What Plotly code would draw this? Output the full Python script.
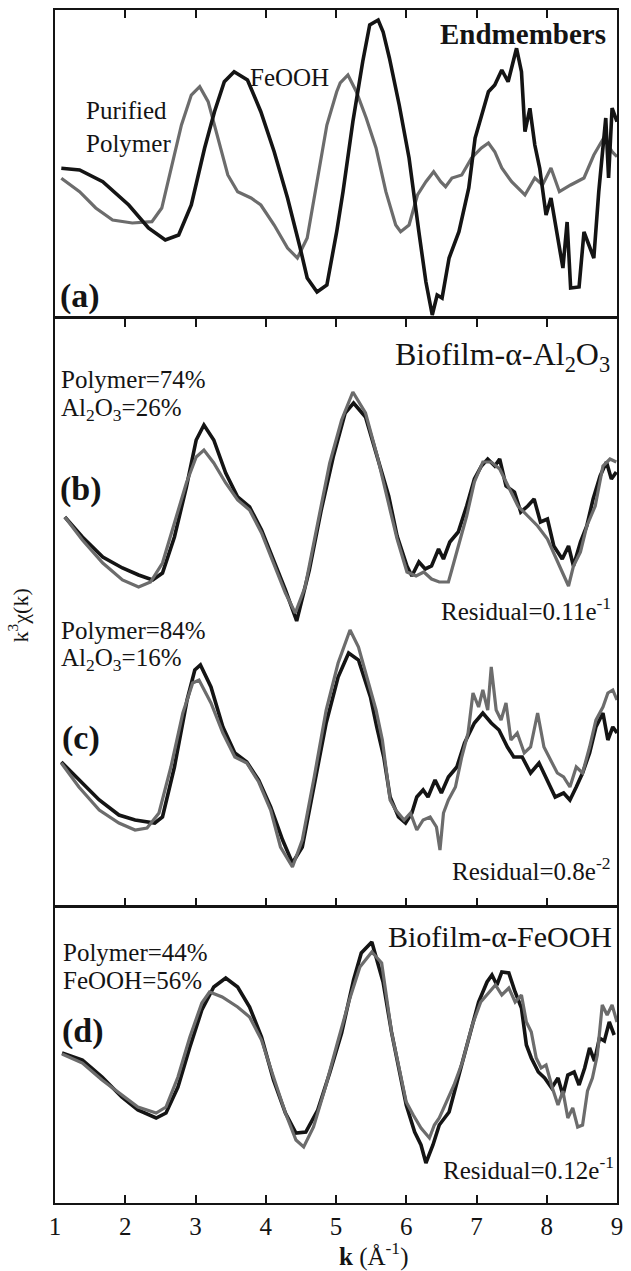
import plotly.graph_objects as go

# ---------------- data (k in 1/Angstrom, k^3 chi(k) in arbitrary units) ----------------
# (a) Endmembers
A_K_FEOOH = [1.09,1.35,1.68,2.05,2.33,2.57,2.76,2.94,3.13,3.27,3.41,3.55,3.74,3.93,4.12,4.31,4.49,4.59,4.73,4.87,
             5.01,5.10,5.24,5.38,5.48,5.60,5.67,5.76,5.90,6.04,6.18,6.28,6.37,6.44,6.51,6.61,6.75,6.89,6.98,7.07,
             7.17,7.26,7.36,7.45,7.57,7.64,7.69,7.76,7.83,7.90,7.99,8.06,8.15,8.23,8.29,8.34,8.46,8.53,8.60,8.67,
             8.74,8.84,8.88,8.93,9.00]
A_FEOOH = [0.67,0.5,-0.67,-3.0,-5.3,-6.5,-6.0,-3.0,2.7,6.33,9.33,10.33,9.5,6.33,2.33,-2.3,-7.3,-10.3,-11.7,-11.0,
           -5.67,-1.67,5.33,11.33,15.0,15.5,14.33,11.7,7.0,1.7,-5.7,-10.7,-14.0,-12.0,-12.3,-8.3,-5.67,-1.3,3.7,6.0,
           8.33,9.0,10.5,9.33,12.67,10.33,4.33,6.67,3.0,0.67,-4.0,-2.3,-6.3,-9.3,-4.7,-11.3,-11.2,-5.7,-7.0,-8.3,
           -1.7,5.7,-0.3,6.7,5.33]
A_K_POLY = [1.09,1.35,1.58,1.82,2.10,2.38,2.52,2.66,2.80,2.94,3.06,3.18,3.32,3.46,3.60,3.79,3.93,4.12,4.31,4.45,
            4.59,4.73,4.87,5.01,5.06,5.17,5.29,5.43,5.57,5.71,5.85,5.92,6.04,6.16,6.28,6.39,6.49,6.56,6.65,6.79,
            6.93,7.07,7.17,7.26,7.36,7.50,7.69,7.83,7.94,8.06,8.18,8.34,8.53,8.67,8.81,8.93,9.00]
A_POLY = [-0.33,-1.67,-3.3,-4.5,-4.8,-4.67,-3.3,0.7,5.0,8.0,8.83,7.33,3.7,0,-1.67,-2.3,-3.0,-5.0,-7.3,-8.3,
          -6.3,-0.67,5.0,8.33,9.2,10.0,8.33,5.7,2.7,-1.67,-5.0,-5.67,-5.0,-2.0,-0.67,0.33,-0.67,-1.17,-0.3,0,
          1.7,2.7,3.2,2.33,0.7,-0.67,-2.0,-0.3,-1.0,0.7,-1.67,-1.0,-0.3,2.0,3.7,2.33,1.83]

# (b) Biofilm-alpha-Al2O3, Polymer=74%
B_K_DATA = [1.14,1.39,1.68,1.96,2.19,2.39,2.53,2.70,2.87,3.01,3.12,3.26,3.43,3.60,3.77,3.94,4.11,4.28,4.44,4.62,
            4.79,4.96,5.13,5.25,5.42,5.59,5.75,5.87,6.01,6.08,6.18,6.27,6.36,6.46,6.53,6.62,6.74,6.86,6.97,7.07,
            7.16,7.26,7.33,7.42,7.54,7.63,7.73,7.82,7.91,8.01,8.10,8.22,8.31,8.38,8.48,8.57,8.66,8.76,8.85,8.92,8.99]
B_DATA = [0,-2.0,-4.0,-5.1,-5.8,-6.3,-5.6,-2.0,3.0,7.7,9.2,7.7,4.4,2.0,1.0,-1.3,-4.3,-7.3,-10.4,-5.3,
          0.7,6.0,10.4,11.4,10.0,6.0,2.1,-1.9,-4.9,-5.9,-4.5,-5.2,-4.9,-3.2,-4.2,-2.5,-1.5,1.1,3.8,5.1,
          5.8,5.1,5.8,3.1,2.5,0.5,1.1,1.8,-0.5,-0.2,-2.9,-4.2,-2.9,-4.9,-2.5,-0.9,1.8,4.1,5.5,3.8,4.5]
B_K_FIT = [1.14,1.39,1.68,1.96,2.19,2.36,2.53,2.70,2.87,3.01,3.12,3.26,3.43,3.60,3.77,3.94,4.11,4.28,4.42,4.56,
           4.74,4.91,5.08,5.24,5.42,5.59,5.76,5.87,6.01,6.14,6.25,6.36,6.47,6.60,6.64,6.74,6.86,6.97,7.09,7.21,
           7.33,7.45,7.59,7.73,7.87,8.01,8.13,8.22,8.31,8.38,8.48,8.57,8.69,8.80,8.90,8.99]
B_FIT = [0,-2.3,-4.6,-6.3,-7.0,-6.5,-4.6,-0.6,3.4,6.0,6.7,5.4,3.4,1.7,0.7,-1.6,-4.6,-7.6,-9.6,-7.0,
         -0.6,5.4,9.7,12.5,10.4,6.0,1.0,-2.2,-5.5,-5.9,-5.5,-6.2,-6.5,-6.5,-5.5,-2.9,0.1,3.5,5.5,5.5,
         4.8,3.1,1.1,0.1,-0.9,-2.2,-4.2,-5.5,-6.9,-4.9,-3.5,-0.9,1.1,5.1,5.8,5.5]

# (c) Biofilm-alpha-Al2O3, Polymer=84%
C_K_DATA = [1.09,1.34,1.63,1.91,2.14,2.42,2.53,2.70,2.88,2.99,3.07,3.22,3.39,3.56,3.73,3.90,4.07,4.24,4.38,4.52,
            4.69,4.86,5.03,5.18,5.32,5.49,5.58,5.68,5.77,5.89,5.99,6.08,6.15,6.24,6.31,6.41,6.50,6.60,6.72,6.83,
            6.97,7.09,7.21,7.32,7.44,7.53,7.65,7.77,7.89,8.00,8.12,8.24,8.33,8.42,8.51,8.61,8.70,8.80,8.87,8.94,9.0]
C_DATA = [0,-1.8,-3.8,-5.3,-5.8,-6.1,-5.5,-0.5,6.2,9.2,9.7,7.5,3.5,0.9,0,-1.8,-4.5,-7.8,-10.1,-8.5,
          -2.5,3.9,8.5,10.9,10.2,6.5,3.5,0.5,-3.5,-5.5,-6.1,-5.1,-3.5,-2.8,-3.5,-1.8,-3.1,-1.5,-0.5,1.9,
          3.9,4.9,3.9,3.2,1.5,0.5,0.5,-1.1,-0.1,-1.8,-3.5,-3.1,-3.8,-2.5,-1.1,0.9,3.5,4.9,2.2,3.5,2.9]
C_K_FIT = [1.09,1.34,1.63,1.91,2.14,2.31,2.48,2.65,2.82,2.96,3.05,3.22,3.39,3.56,3.73,3.90,4.07,4.21,4.38,4.52,
           4.69,4.86,5.03,5.20,5.32,5.49,5.57,5.66,5.77,5.85,5.97,6.06,6.15,6.24,6.34,6.43,6.48,6.53,6.60,6.70,
           6.79,6.88,6.95,7.03,7.09,7.16,7.21,7.28,7.35,7.42,7.49,7.58,7.68,7.77,7.87,7.96,8.06,8.15,8.24,8.33,
           8.42,8.51,8.61,8.70,8.80,8.87,8.94,9.0]
C_FIT = [-0.1,-2.5,-4.8,-6.1,-6.8,-6.6,-5.1,-0.5,4.9,7.9,8.2,5.9,2.9,0.5,-0.1,-2.0,-4.8,-8.5,-10.5,-7.8,
         -1.5,5.2,9.9,13.2,11.5,7.2,5.2,2.2,-3.8,-4.8,-5.8,-5.1,-6.8,-5.8,-5.5,-6.5,-8.8,-5.1,-3.8,-2.5,
         0.5,2.9,6.9,5.5,7.2,5.2,9.5,5.2,4.2,5.9,2.2,2.9,0.9,1.5,4.9,1.5,0.2,-1.1,-1.5,-2.5,
         -0.5,-1.1,1.5,4.2,5.5,6.9,7.2,6.2]

# (d) Biofilm-alpha-FeOOH
D_K_DATA = [1.10,1.39,1.67,1.95,2.18,2.44,2.58,2.75,2.92,3.09,3.26,3.43,3.60,3.77,3.94,4.11,4.28,4.43,4.57,4.74,
            4.91,5.08,5.25,5.36,5.51,5.67,5.79,5.88,6.00,6.12,6.21,6.28,6.38,6.47,6.61,6.75,6.89,7.03,7.15,7.22,
            7.29,7.36,7.46,7.55,7.64,7.71,7.78,7.88,7.97,8.07,8.16,8.23,8.30,8.39,8.46,8.54,8.61,8.68,8.75,8.82,
            8.89,8.96]
D_DATA = [0,-0.7,-2.4,-4.4,-5.7,-6.5,-6.0,-3.4,0.6,4.3,6.6,7.5,6.6,4.6,1.6,-2.7,-6.0,-8.0,-7.9,-5.7,
          -2.0,2.0,7.3,10.0,11.1,7.1,2.1,-1.2,-5.2,-7.9,-9.2,-11.0,-9.2,-7.2,-5.9,-2.2,1.5,5.1,7.1,7.8,
          6.8,8.1,8.0,6.1,4.5,0.8,-0.5,-1.9,-2.5,-3.5,-2.5,-4.2,-2.2,-1.9,-3.2,-1.5,0.5,-0.8,1.5,1.2,
          3.1,1.8]
D_K_FIT = [1.10,1.39,1.67,1.95,2.18,2.44,2.58,2.75,2.92,3.09,3.20,3.38,3.60,3.77,3.94,4.11,4.28,4.43,4.54,4.68,
           4.85,5.02,5.19,5.34,5.51,5.65,5.79,5.88,6.00,6.10,6.21,6.33,6.40,6.47,6.57,6.68,6.80,6.94,7.06,7.18,
           7.27,7.36,7.46,7.55,7.64,7.71,7.78,7.85,7.92,7.99,8.08,8.16,8.23,8.30,8.37,8.44,8.51,8.58,8.65,8.72,
           8.79,8.86,8.93,9.0]
D_FIT = [-0.1,-1.0,-2.7,-4.2,-5.4,-6.0,-5.4,-2.4,1.6,5.0,6.1,5.6,4.6,3.6,1.3,-2.4,-6.0,-8.7,-9.4,-7.4,
         -3.4,1.0,5.3,8.6,10.1,9.0,2.1,-0.9,-4.9,-6.2,-7.5,-8.5,-7.2,-6.5,-4.9,-3.2,-0.9,2.8,5.1,6.1,
         6.8,5.8,6.5,5.1,5.8,3.1,2.1,-0.5,-1.5,-1.2,-3.5,-5.2,-3.8,-6.5,-5.5,-7.4,-7.2,-3.8,-2.5,-0.2,
         4.8,3.8,4.8,3.1]

K_TICKS = [1, 2, 3, 4, 5, 6, 7, 8, 9]
B_OFFSET = 24.5   # vertical offset of spectrum (b) above (c) in the shared panel

# ---------------- styling ----------------
BLACK = "#141414"
GRAY = "#6c6c6c"
SERIF = "Liberation Serif"
W, H = 631, 1271
ML, MR, MT, MB = 55, 8, 10, 68
PW, PH = W - ML - MR, H - MT - MB


def yfrac(py):
    return (H - MB - py) / PH


def xfrac(px):
    return (px - ML) / PW


fig = go.Figure()


def line(x, y, color, width, xa, ya):
    fig.add_trace(go.Scatter(x=x, y=y, mode="lines", xaxis=xa, yaxis=ya,
                             line=dict(color=color, width=width), showlegend=False,
                             hoverinfo="skip"))


# panel (a)
line(A_K_POLY, A_POLY, GRAY, 3.2, "x3", "y3")
line(A_K_FEOOH, A_FEOOH, BLACK, 3.6, "x3", "y3")
# panel (b) & (c)
line(B_K_DATA, [v + B_OFFSET for v in B_DATA], BLACK, 3.6, "x2", "y2")
line(B_K_FIT, [v + B_OFFSET for v in B_FIT], GRAY, 3.2, "x2", "y2")
line(C_K_DATA, C_DATA, BLACK, 3.6, "x2", "y2")
line(C_K_FIT, C_FIT, GRAY, 3.2, "x2", "y2")
# panel (d)
line(D_K_DATA, D_DATA, BLACK, 3.6, "x", "y")
line(D_K_FIT, D_FIT, GRAY, 3.2, "x", "y")

axis_common = dict(range=[1, 9], showgrid=False, zeroline=False, showline=True,
                   linecolor=BLACK, linewidth=2, ticks="inside", ticklen=8,
                   tickwidth=1.5, tickcolor=BLACK)
yaxis_common = dict(showgrid=False, zeroline=False, showline=True, linecolor=BLACK,
                    linewidth=2, mirror=True, ticks="", showticklabels=False)

fig.update_layout(
    width=W, height=H, margin=dict(l=ML, r=MR, t=MT, b=MB),
    paper_bgcolor="white", plot_bgcolor="white",
    font=dict(family=SERIF, color=BLACK),
    xaxis=dict(**axis_common, anchor="y", mirror=True, tickvals=K_TICKS,
               ticktext=[str(t) for t in K_TICKS],
               tickfont=dict(family=SERIF, size=25, color=BLACK)),
    xaxis2=dict(**axis_common, anchor="y2", matches="x", mirror="ticks",
                tickvals=K_TICKS, showticklabels=False),
    xaxis3=dict(**axis_common, anchor="y3", matches="x", side="top", mirror=True,
                tickvals=K_TICKS, showticklabels=False),
    yaxis=dict(**yaxis_common, domain=[0, yfrac(907)], range=[-15.0, 14.6]),
    yaxis2=dict(**yaxis_common, domain=[yfrac(906), yfrac(319)], range=[-14.4, 44.3]),
    yaxis3=dict(**yaxis_common, domain=[yfrac(316), 1], range=[-14.1, 16.5]),
)


def note(text, px, py, size, xanchor="left", bold=False, angle=0, align="left"):
    if bold:
        text = "<b>" + text + "</b>"
    fig.add_annotation(text=text, x=xfrac(px), y=yfrac(py), xref="paper", yref="paper",
                       xanchor=xanchor, yanchor="middle", showarrow=False, textangle=angle,
                       align=align, font=dict(family=SERIF, size=size, color=BLACK))


# panel (a)
note("Endmembers", 614, 34, 29, xanchor="right", bold=True)
note("FeOOH", 250, 77, 25)
note("Purified<br>Polymer", 84, 127, 25)
note("(a)", 58, 296, 34, bold=True)
# panel (b)
note("Biofilm-α-Al<sub>2</sub>O<sub>3</sub>", 618, 357, 32, xanchor="right")
note("Polymer=74%", 59, 379, 25)
note("Al<sub>2</sub>O<sub>3</sub>=26%", 59, 409, 25)
note("(b)", 58, 489, 34, bold=True)
note("Residual=0.11e<sup>-1</sup>", 619, 609, 25, xanchor="right")
# panel (c)
note("Polymer=84%", 59, 630, 25)
note("Al<sub>2</sub>O<sub>3</sub>=16%", 59, 660, 25)
note("(c)", 60, 738, 34, bold=True)
note("Residual=0.8e<sup>-2</sup>", 619, 869, 25, xanchor="right")
# panel (d)
note("Biofilm-α-FeOOH", 620, 937, 30, xanchor="right")
note("Polymer=44%", 61, 952, 25)
note("FeOOH=56%", 61, 980, 25)
note("(d)", 60, 1031, 34, bold=True)
note("Residual=0.12e<sup>-1</sup>", 622, 1168, 25, xanchor="right")
# axis titles
note("k<sup>3</sup>χ(k)", 18, 615, 22, xanchor="center", angle=-90)
note("<b>k</b> (Å<sup>-1</sup>)", 377, 1254, 25, xanchor="center")

fig.write_html("out.html", config={"displayModeBar": False},
               post_script="document.body.style.margin='0px';document.body.style.overflow='hidden';")
